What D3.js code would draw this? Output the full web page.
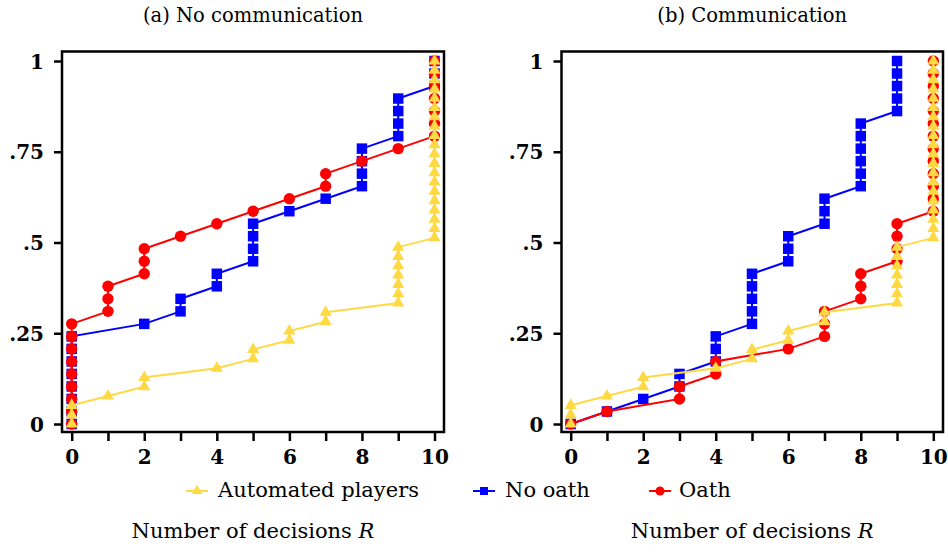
<!DOCTYPE html>
<html>
<head>
<meta charset="utf-8">
<script src="https://cdn.jsdelivr.net/npm/d3@7"></script>
<style>
  body { margin: 0; background: #fff; }
  text { font-family: "DejaVu Serif", serif; }
</style>
</head>
<body>
<svg id="chart" width="948" height="552"></svg>
<script>

// sorted observations (number of decisions R), one entry per subject
var automated = [0, 0, 0, 1, 2, 2, 4, 5, 5, 6, 6, 7, 7,
    9, 9, 9, 9, 9, 9, 9,
    10, 10, 10, 10, 10, 10, 10, 10, 10, 10, 10, 10, 10, 10, 10, 10, 10, 10, 10, 10]

var noCommNoOath = [0, 0, 0, 0, 0, 0, 0, 0, 2, 3, 3, 4, 4, 5, 5, 5, 5, 6, 7,
    8, 8, 8, 8, 9, 9, 9, 9, 10, 10, 10]
var noCommOath = [0, 0, 0, 0, 0, 0, 0, 0, 0, 1, 1, 1, 2, 2, 2, 3, 4, 5, 6, 7, 7, 8, 9,
    10, 10, 10, 10, 10, 10, 10]

var commNoOath = [0, 1, 2, 3, 3, 4, 4, 4, 5, 5, 5, 5, 5, 6, 6, 6, 7, 7, 7,
    8, 8, 8, 8, 8, 8, 9, 9, 9, 9, 9]
var commOath = [0, 1, 3, 3, 4, 4, 6, 7, 7, 7, 8, 8, 8, 9, 9, 9, 9,
    10, 10, 10, 10, 10, 10, 10, 10, 10, 10, 10, 10, 10]

var panelTitles = ["(a) No communication", "(b) Communication"]
var yTickValues = [0, 0.25, 0.5, 0.75, 1]
var yTickLabels = ["0", ".25", ".5", ".75", "1"]
var xTickValues = [0, 1, 2, 3, 4, 5, 6, 7, 8, 9, 10]
var legendLabels = ["Automated players", "No oath", "Oath"]

var colYellow = "#ffd944"
var colBlue = "#0000ff"
var colRed = "#ff0000"

var svg = d3.select("#chart")

// frame boxes of the two panels
var panels = [
    { left: 62, right: 444, x0: 71.7, x1: 434.5, title: panelTitles[0],
      series: [
        { data: noCommNoOath, colour: colBlue, shape: d3.symbolSquare, size: 110 },
        { data: noCommOath, colour: colRed, shape: d3.symbolCircle, size: 102 },
        { data: automated, colour: colYellow, shape: d3.symbolTriangle, size: 64 }
      ] },
    { left: 561.5, right: 943, x0: 570.7, x1: 933.3, title: panelTitles[1],
      series: [
        { data: commNoOath, colour: colBlue, shape: d3.symbolSquare, size: 110 },
        { data: commOath, colour: colRed, shape: d3.symbolCircle, size: 102 },
        { data: automated, colour: colYellow, shape: d3.symbolTriangle, size: 64 }
      ] }
]

var frameTop = 51.5, frameBottom = 432

var y = d3.scaleLinear().domain([0, 1]).range([424, 61])

function draw_panel(p) {

    var x = d3.scaleLinear().domain([0, 10]).range([p.x0, p.x1])
    var g = svg.append("g")

    // series: line first then markers, blue -> red -> yellow
    p.series.forEach(function(s) {
        var n = s.data.length
        var pts = s.data.map(function(v, i) {
            return { x: x(v), y: y(i / (n - 1)) }
        })

        g.append("path")
            .datum(pts)
            .attr("fill", "none")
            .attr("stroke", s.colour)
            .attr("stroke-width", 2)
            .attr("d", d3.line().x(function(d) { return d.x }).y(function(d) { return d.y }))

        g.selectAll(null)
            .data(pts)
            .enter()
            .append("path")
            .attr("transform", function(d) { return "translate(" + d.x + "," + d.y + ")" })
            .attr("d", d3.symbol().type(s.shape).size(s.size))
            .attr("fill", s.colour)
    })

    g.append("rect")
        .attr("x", p.left)
        .attr("y", frameTop)
        .attr("width", p.right - p.left)
        .attr("height", frameBottom - frameTop)
        .attr("fill", "none")
        .attr("stroke", "#000")
        .attr("stroke-width", 2.5)

    var yAxis = d3.axisLeft(y)
        .tickValues(yTickValues)
        .tickFormat(function(d, i) { return yTickLabels[i] })
        .tickSize(8)
        .tickPadding(10)

    var ya = g.append("g")
        .attr("transform", "translate(" + p.left + ",0)")
        .call(yAxis)

    var xAxis = d3.axisBottom(x)
        .tickValues(xTickValues)
        .tickFormat(function(d) { return d % 2 == 0 ? d : "" })
        .tickSize(9)
        .tickPadding(9)

    var xa = g.append("g")
        .attr("transform", "translate(0," + frameBottom + ")")
        .call(xAxis)

    // style both axes the same way
    ;[ya, xa].forEach(function(a) {
        a.select(".domain").remove()
        a.selectAll(".tick line").attr("stroke", "#000").attr("stroke-width", 2.5)
        a.selectAll(".tick text")
            .attr("fill", "#000")
            .style("font-family", "DejaVu Serif")
            .style("font-weight", "bold")
            .style("font-size", "20px")
    })
    ya.selectAll(".tick text").attr("dy", "0.36em")

    var cx = (p.left + p.right) / 2

    g.append("text")
        .attr("x", cx)
        .attr("y", 22)
        .attr("text-anchor", "middle")
        .style("font-size", "19.5px")
        .text(p.title)

    var lab = g.append("text")
        .attr("x", cx)
        .attr("y", 538)
        .attr("text-anchor", "middle")
        .style("font-size", "21px")
    lab.append("tspan").text("Number of decisions ")
    lab.append("tspan").style("font-style", "italic").text("R")
}

panels.forEach(draw_panel)

// legend underneath
var legendItems = [
    { label: legendLabels[0], colour: colYellow, shape: d3.symbolTriangle, size: 50, cx: 197, tx: 218 },
    { label: legendLabels[1], colour: colBlue, shape: d3.symbolSquare, size: 64, cx: 484, tx: 505 },
    { label: legendLabels[2], colour: colRed, shape: d3.symbolCircle, size: 64, cx: 660, tx: 679 }
]

var leg = svg.append("g")
legendItems.forEach(function(d) {
    leg.append("line")
        .attr("x1", d.cx - 11).attr("x2", d.cx + 11)
        .attr("y1", 491).attr("y2", 491)
        .attr("stroke", d.colour)
        .attr("stroke-width", 2)
    leg.append("path")
        .attr("transform", "translate(" + d.cx + ",491)")
        .attr("d", d3.symbol().type(d.shape).size(d.size))
        .attr("fill", d.colour)
    leg.append("text")
        .attr("x", d.tx)
        .attr("y", 497)
        .style("font-size", "21px")
        .text(d.label)
})

</script>
</body>
</html>
